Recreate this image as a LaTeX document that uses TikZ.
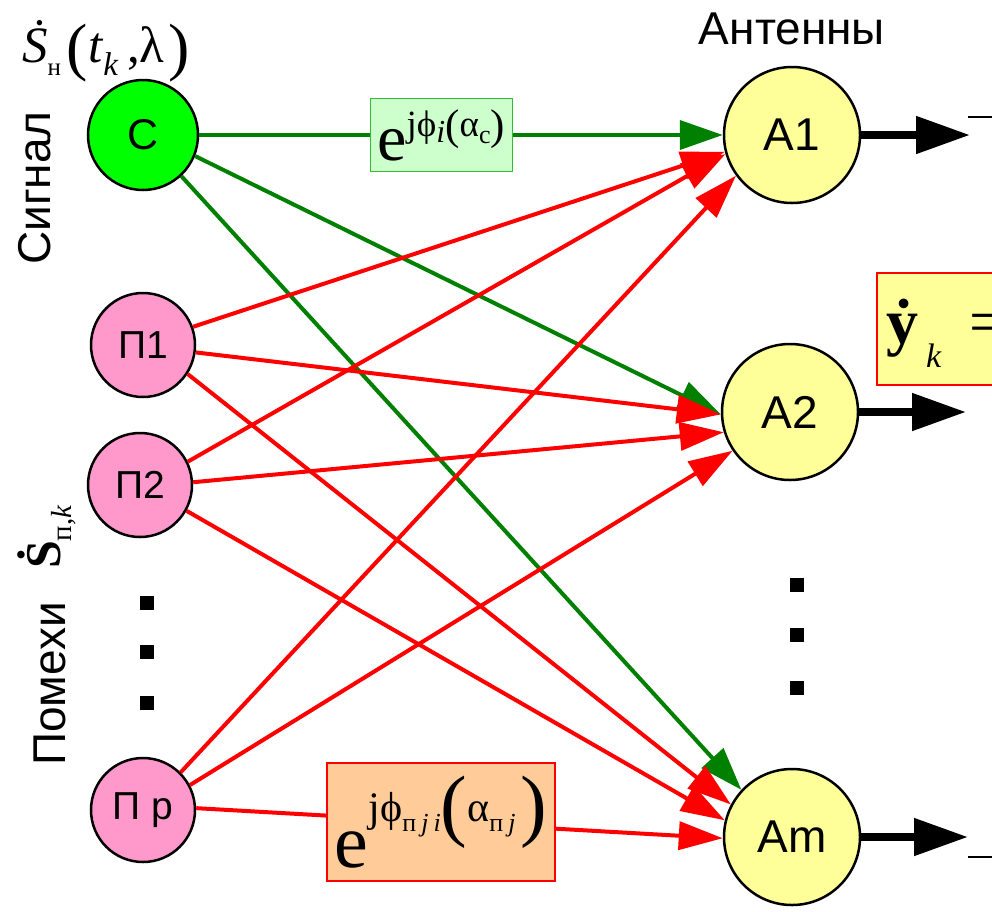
\documentclass[tikz,border=0pt]{standalone}
\usepackage{fontspec}
\setmainfont{Liberation Sans}
\newfontfamily\tms{Liberation Serif}
\usetikzlibrary{arrows.meta}
\definecolor{cgreen}{HTML}{00FF00}
\definecolor{lgreen}{HTML}{008000}
\definecolor{pinkc}{HTML}{FF99CC}
\definecolor{yelc}{HTML}{FFFF99}
\definecolor{gboxc}{HTML}{CCFFCC}
\definecolor{oboxc}{HTML}{FFCC99}
\definecolor{gborder}{HTML}{33BB33}
\begin{document}
\begin{tikzpicture}[x=1pt,y=-1pt,
 src/.style={circle,draw=black,line width=2.5pt,inner sep=0pt},
 sig/.style={src,fill=cgreen,minimum size=110pt,font=\fontsize{43}{43}\selectfont},
 itf/.style={src,fill=pinkc,minimum size=104pt,font=\fontsize{39}{39}\selectfont},
 ant/.style={src,fill=yelc,minimum size=136pt,font=\fontsize{46}{46}\selectfont},
 gl/.style={draw=lgreen,line width=4pt,-{Triangle[length=43pt,width=29pt]}},
 rl/.style={draw=red,line width=4pt,-{Triangle[length=44pt,width=28pt]}},
 outl/.style={draw=black,line width=8pt,-{Triangle[length=54pt,width=36pt]}},
 dotsq/.style={fill=black,minimum size=14pt,inner sep=0pt},
 lab/.style={font=\fontsize{46}{46}\selectfont,inner sep=0pt},
 gbox/.style={draw=gborder,line width=1.2pt,fill=gboxc,minimum width=142pt,minimum height=73pt,inner sep=0pt},
 obox/.style={draw=red,line width=2pt,fill=oboxc,minimum width=228pt,minimum height=118pt,inner sep=0pt},
]
\useasboundingbox (0,0) rectangle (992,911);
\clip (0,0) rectangle (992,911);

% nodes
\node[sig] (C) at (143,135) {С};
\node[itf] (P1) at (143,345) {П1};
\node[itf] (P2) at (140,485) {П2};
\node[itf] (Pp) at (143,810) {П p};
\node[ant] (A1) at (792,135) {А1};
\node[ant] (A2) at (790,412) {А2};
\node[ant] (Am) at (792,837) {Am};

% labels
\node[lab] (antl) at (792,29) {Антенны};
\node[lab,rotate=90] (sigl) at (35,188) {Сигнал};
\node[lab,rotate=90] (poml) at (50,684) {Помехи};
\node[anchor=base,inner sep=0pt] (sn) at (106,62) {\tms\fontsize{51}{51}\selectfont\textit{\.{S}}\raisebox{-13pt}{\fontsize{25}{25}\selectfont н}\hspace{6pt}\raisebox{-6pt}{\fontsize{64}{64}\selectfont(}\textit{t}\raisebox{-13pt}{\fontsize{33}{33}\selectfont\textit{k}}\,,λ\hspace{4pt}\raisebox{-6pt}{\fontsize{64}{64}\selectfont)}};
\node[rotate=90,inner sep=0pt] (spk) at (47,537) {\tms\fontsize{50}{50}\selectfont\textbf{\.{S}}\raisebox{-11pt}{\fontsize{29}{29}\selectfont п,\textit{k}}};

% dots
\node[dotsq] (dl1) at (147,603) {};
\node[dotsq] (dl2) at (147,652) {};
\node[dotsq] (dl3) at (147,703) {};
\node[dotsq] (dr1) at (797,585) {};
\node[dotsq] (dr2) at (797,635) {};
\node[dotsq] (dr3) at (797,688) {};

% connectors
\draw[gl] (C.east) -- (A1.west)
  node[gbox,pos=0.462] (gb) {\tms\fontsize{66}{66}\selectfont e\raisebox{24pt}{\fontsize{37}{37}\selectfont jϕ\raisebox{-6pt}{\fontsize{32}{32}\selectfont\itshape i}\raisebox{-3pt}{\fontsize{43}{43}\selectfont(}α\raisebox{-7pt}{\fontsize{26}{26}\selectfont с}\raisebox{-3pt}{\fontsize{43}{43}\selectfont)}}};
\draw[gl] (C.-22) -- (A2.182);
\draw[gl] (C.-47) -- (Am.137);
\draw[rl] (P1.20) -- (A1.194);
\draw[rl] (P1.-8) -- (A2.182);
\draw[rl] (P1.-33) -- (Am.152);
\draw[rl] (P2.26) -- (A1.196);
\draw[rl] (P2.3) -- (A2.197);
\draw[rl] (P2.-29) -- (Am.166);
\draw[rl] (Pp.45) -- (A1.216);
\draw[rl] (Pp.28) -- (A2.214);
\draw[rl] (Pp.2) -- (Am.181)
  node[obox,pos=0.465] (ob) {\tms\fontsize{76}{76}\selectfont e\raisebox{46pt}{\fontsize{42}{42}\selectfont jϕ\raisebox{-10pt}{\fontsize{26}{26}\selectfont п\hspace{5pt}\itshape j\hspace{5pt}i}\raisebox{-10pt}{\fontsize{80}{80}\selectfont(}α\raisebox{-10pt}{\fontsize{26}{26}\selectfont п\hspace{5pt}\itshape j}\hspace{5pt}\raisebox{-10pt}{\fontsize{80}{80}\selectfont)}}};

% outputs
\coordinate (o1) at (970,135);
\coordinate (o2) at (966,412);
\coordinate (o3) at (968,837);
\draw[outl] (A1.east) -- (o1);
\draw[outl] (A2.east) -- (o2);
\draw[outl] (Am.east) -- (o3);
\coordinate (f1a) at (968,117); \coordinate (f1b) at (995,117);
\coordinate (f2a) at (968,857); \coordinate (f2b) at (995,857);
\draw[line width=2.5pt] (f1a) -- (f1b);
\draw[line width=2.5pt] (f2a) -- (f2b);

% result box (cut at right edge, as in the reference)
\node[draw=red,line width=2pt,fill=yelc,anchor=west,minimum width=150pt,minimum height=112pt,inner sep=0pt] (yb) at (876,329) {};
\node[anchor=base west,inner sep=0pt] (yt) at (886,343) {\tms\fontsize{64}{64}\selectfont\textbf{\.{y}}\hspace{8pt}\raisebox{-24pt}{\fontsize{34}{34}\selectfont\itshape k}\hspace{28pt}=};
\end{tikzpicture}
\end{document}
